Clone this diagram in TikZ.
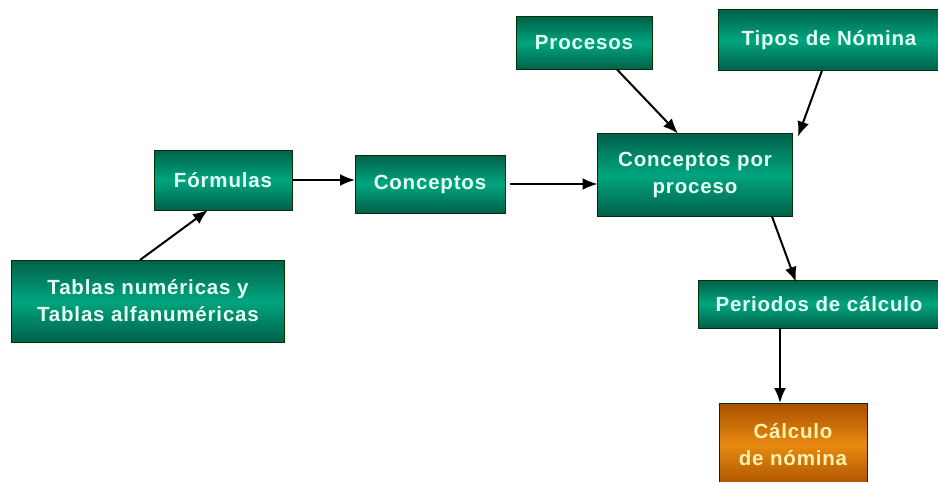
\documentclass[tikz,border=0pt]{standalone}
\usepackage{fontspec}
\setmainfont{Liberation Sans}
\usetikzlibrary{arrows.meta}
\definecolor{boxgreen}{HTML}{00A57E}
\definecolor{boxgreendark}{HTML}{00604A}
\definecolor{boxorange}{HTML}{E88A10}
\definecolor{boxorangedark}{HTML}{A85000}
\definecolor{textgreen}{HTML}{E4FFF4}
\definecolor{textorange}{HTML}{FFF2B0}
\tikzstyle{box}=[draw=black!80!green, line width=1pt, inner sep=0, outer sep=0,
                 font=\fontsize{20.5}{27}\selectfont\bfseries\addfontfeatures{LetterSpace=4}, align=center]
\tikzstyle{gbox}=[box, top color=boxgreendark, bottom color=boxgreendark, middle color=boxgreen, text=textgreen]
\tikzstyle{obox}=[box, top color=boxorangedark, bottom color=boxorangedark, middle color=boxorange, text=textorange]
\tikzstyle{flow}=[line width=2pt, -{Latex[length=15pt,width=12pt]}]

\begin{document}
\begin{tikzpicture}[x=1pt, y=-1pt]
        \useasboundingbox (0, 0) rectangle (938, 482);
        \node[gbox, minimum width=138pt, minimum height=60pt] (formulas) at (223, 180) {Fórmulas};
        \node[gbox, minimum width=150pt, minimum height=58pt] (conceptos) at (430, 184) {Conceptos};
        \node[gbox, minimum width=273pt, minimum height=82pt] (tablas) at (148, 301) {Tablas numéricas y\\Tablas alfanuméricas};
        \node[gbox, minimum width=136pt, minimum height=53pt] (procesos) at (584, 43) {Procesos};
        \node[gbox, minimum width=222pt, minimum height=61pt] (tipos) at (829, 40) {Tipos de Nómina};
        \node[gbox, minimum width=195pt, minimum height=83pt] (cpp) at (695, 175) {Conceptos por\\proceso};
        \node[gbox, minimum width=242pt, minimum height=48pt] (periodos) at (819, 304) {Periodos de cálculo};
        \node[obox, minimum width=148pt, minimum height=84pt] (calculo) at (793, 445) {Cálculo\\de nómina};
        \draw[flow] ([xshift=-8pt]tablas.north) -- ([xshift=-15pt]formulas.south);
        \draw[flow] (formulas.east) -- (formulas.east -| conceptos.west);
        \draw[flow] ([xshift=5pt]conceptos.east) -- (conceptos.east -| cpp.west);
        \draw[flow] ([xshift=33pt]procesos.south) -- ([xshift=-17pt]cpp.north);
        \draw[flow] ([xshift=-7pt]tipos.south) -- ([xshift=103pt, yshift=-3pt]cpp.north);
        \draw[flow] ([xshift=77pt]cpp.south) -- ([xshift=-23pt, yshift=-2pt]periodos.north);
        \draw[flow] ([xshift=-39pt]periodos.south) -- ([xshift=-39pt]periodos.south |- calculo.north);
    \end{tikzpicture}
\end{document}
